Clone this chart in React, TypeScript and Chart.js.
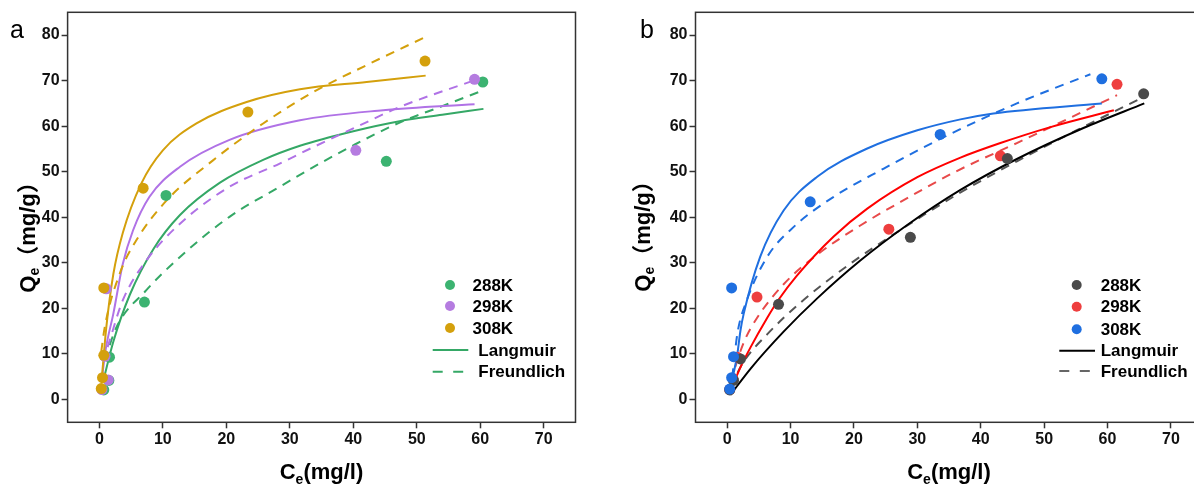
import React, { useEffect, useRef } from 'react';
import { Chart, registerables } from 'chart.js';

Chart.register(...registerables);

const FONT = "'Liberation Sans', Arial, sans-serif";
const CJK = "'Noto Sans CJK SC', 'Noto Sans CJK JP', sans-serif";

const X_TICKS = [0, 10, 20, 30, 40, 50, 60, 70];
const Y_TICKS = [0, 10, 20, 30, 40, 50, 60, 70, 80];

// ---------- Panel a : measured points ----------
const A288_X = [0.7, 1.5, 1.6, 7.1, 10.5, 45.2, 60.4];
const A288_Y = [2.1, 4.2, 9.3, 21.4, 44.8, 52.3, 69.7];
const A298_X = [0.4, 1.4, 0.9, 1.1, 40.4, 59.1];
const A298_Y = [2.2, 4.3, 9.5, 24.3, 54.7, 70.3];
const A308_X = [0.3, 0.5, 0.7, 0.7, 6.9, 23.4, 51.3];
const A308_Y = [2.4, 4.8, 9.7, 24.5, 46.4, 63.1, 74.3];

// ---------- Panel a : fitted curves ----------
const A288L_X = [0.6, 2.2, 4.8, 8.5, 12.7, 19, 25.8, 31.6, 40, 47.3, 54, 60.5];
const A288L_Y = [4.0, 12.7, 23.0, 33.0, 40.5, 47.6, 52.6, 55.7, 58.9, 61.1, 62.5, 63.8];
const A288F_X = [0.85, 2.7, 7.4, 12.7, 20.5, 28.4, 34.7, 40, 47.3, 54, 60.5];
const A288F_Y = [8.6, 15.9, 24, 31.3, 40.1, 46.7, 51.8, 55.8, 60.8, 64.4, 67.9];
const A298L_X = [0.4, 1.0, 2.2, 3.7, 5.3, 7.9, 12.7, 20.5, 31.6, 44.7, 59.1];
const A298L_Y = [4.5, 11, 18.8, 29.8, 37.1, 44.5, 51.1, 57, 61.3, 63.5, 64.8];
const A298F_X = [1.3, 3.7, 7.4, 12.7, 20.5, 28.4, 33.7, 40, 47.3, 59.1];
const A298F_Y = [11.5, 21.8, 30.5, 38.6, 46.7, 51.8, 55.4, 59.5, 64.2, 70.1];
const A308L_X = [0.4, 1.1, 2.2, 3.7, 6.6, 10, 15.3, 23.2, 31.6, 42.1, 51.4];
const A308L_Y = [4.9, 15.9, 27.5, 36.6, 47.4, 54.7, 60.6, 65.3, 68.1, 69.7, 71.1];
const A308F_X = [0.3, 0.85, 3.2, 5.8, 10.6, 17.9, 25.8, 33.7, 42.1, 51.4];
const A308F_Y = [10.5, 15.9, 27.6, 34.9, 43.7, 52.5, 60.6, 67.5, 73.4, 79.6];

// ---------- Panel b : measured points ----------
const B288_X = [0.4, 1.0, 2.1, 8.1, 28.9, 44.2, 65.7];
const B288_Y = [2.1, 4.2, 8.9, 20.9, 35.6, 52.9, 67.1];
const B298_X = [0.4, 0.9, 1.6, 4.7, 25.5, 43.1, 61.5];
const B298_Y = [2.2, 4.6, 9.3, 22.5, 37.4, 53.5, 69.2];
const B308_X = [0.4, 0.7, 1.0, 0.7, 13.1, 33.6, 59.1];
const B308_Y = [2.3, 4.8, 9.4, 24.5, 43.4, 58.2, 70.4];

// ---------- Panel b : fitted curves ----------
const B288L_X = [0.5, 3.7, 8.9, 14.2, 21, 28.4, 36.8, 45.7, 56.2, 65.8];
const B288L_Y = [1.0, 6.8, 14.9, 22.2, 30.5, 38.3, 46.0, 52.8, 59.6, 65];
const B288F_X = [0.5, 2.6, 6.3, 11.5, 19.4, 27.3, 36.5, 45.7, 55, 65.8];
const B288F_Y = [2.7, 8.3, 14.3, 21.2, 29.8, 37.2, 45.2, 52.3, 59, 66.5];
const B298L_X = [0.5, 2, 3.7, 6.3, 8.1, 11, 16.8, 22.1, 30, 36.8, 43.1, 51, 61];
const B298L_Y = [1.8, 6.8, 11.5, 17.9, 21.9, 27.2, 35.8, 41.9, 48.8, 53.1, 56.3, 59.8, 63.5];
const B298F_X = [0.5, 2.6, 4.7, 8.9, 14.2, 21, 28.4, 36, 45.7, 53.6, 61.5];
const B298F_Y = [3.8, 12.5, 17.9, 25.3, 31.8, 38.2, 44.2, 50.0, 56.3, 61.5, 66.8];
const B308L_X = [0.5, 1.6, 2.1, 2.6, 5.2, 8.9, 14.2, 22.1, 30, 36.8, 42, 59.1];
const B308L_Y = [2.5, 10, 15.2, 18.8, 31.3, 41.5, 48.9, 55.1, 59.1, 61.5, 62.8, 65];
const B308F_X = [0.8, 1.6, 3.1, 6.3, 10.5, 16.8, 24.7, 33.6, 45.7, 57.3];
const B308F_Y = [4.9, 14.4, 21.8, 31.3, 37.9, 44.5, 50.7, 57.2, 65, 71.4];

const pts = (xs: number[], ys: number[]) => xs.map((x, i) => ({ x, y: ys[i] }));

const pointSet = (xs: number[], ys: number[], color: string) => ({
  data: pts(xs, ys),
  backgroundColor: color,
  borderWidth: 0,
  pointRadius: 5.5,
  pointHoverRadius: 5.5,
  showLine: false,
});

const curveSet = (xs: number[], ys: number[], color: string, dashed: boolean) => ({
  data: pts(xs, ys),
  borderColor: color,
  borderWidth: 2,
  pointRadius: 0,
  pointHoverRadius: 0,
  showLine: true,
  fill: false,
  cubicInterpolationMode: 'monotone',
  borderDash: dashed ? [9, 7] : [],
});

type Seg = { text: string; font: string; dy: number };

function drawSegs(ctx: CanvasRenderingContext2D, segs: Seg[], cx: number, baseY: number) {
  let total = 0;
  const widths = segs.map((s) => {
    ctx.font = s.font;
    const w = ctx.measureText(s.text).width;
    total += w;
    return w;
  });
  let x = cx - total / 2;
  ctx.textAlign = 'left';
  ctx.textBaseline = 'alphabetic';
  segs.forEach((s, i) => {
    ctx.font = s.font;
    ctx.fillText(s.text, x, baseY + s.dy);
    x += widths[i];
  });
}

const BIG = `bold 22px ${FONT}`;
const SMALL = `bold 14px ${FONT}`;
const BIG_CJK = `bold 22px ${CJK}`;

const X_TITLE: Seg[] = [
  { text: 'C', font: BIG, dy: 0 },
  { text: 'e', font: SMALL, dy: 5 },
  { text: '(mg/l)', font: BIG, dy: 0 },
];
const Y_TITLE: Seg[] = [
  { text: 'Q', font: BIG, dy: 0 },
  { text: 'e', font: SMALL, dy: 4 },
  { text: '（', font: BIG_CJK, dy: 0 },
  { text: 'mg/g', font: BIG, dy: 0 },
  { text: '）', font: BIG_CJK, dy: 0 },
];

function decorate(chart: any, cfg: any) {
  const ctx: CanvasRenderingContext2D = chart.ctx;
  const ca = chart.chartArea;
  ctx.save();
  ctx.strokeStyle = '#333';
  ctx.lineWidth = 1.5;
  ctx.strokeRect(ca.left, ca.top, ca.right - ca.left, ca.bottom - ca.top);

  ctx.fillStyle = '#000';
  ctx.font = `25px ${FONT}`;
  ctx.textAlign = 'left';
  ctx.textBaseline = 'alphabetic';
  ctx.fillText(cfg.letter, cfg.letterX, 38);

  drawSegs(ctx, X_TITLE, cfg.xTitleX, 479);

  ctx.save();
  ctx.translate(cfg.yTitleX, cfg.yTitleY);
  ctx.rotate(-Math.PI / 2);
  drawSegs(ctx, Y_TITLE, 0, 0);
  ctx.restore();

  ctx.font = `bold 17px ${FONT}`;
  ctx.textBaseline = 'middle';
  ctx.textAlign = 'left';
  cfg.markers.forEach((m: any) => {
    ctx.fillStyle = m.color;
    ctx.beginPath();
    ctx.arc(cfg.markerX, m.y, 5, 0, Math.PI * 2);
    ctx.fill();
    ctx.fillStyle = '#000';
    ctx.fillText(m.label, cfg.textX, m.y + 1);
  });
  ctx.lineWidth = 2;
  ctx.strokeStyle = cfg.langColor;
  ctx.setLineDash([]);
  ctx.beginPath();
  ctx.moveTo(cfg.lineX0, cfg.langY);
  ctx.lineTo(cfg.lineX1, cfg.langY);
  ctx.stroke();
  ctx.fillStyle = '#000';
  ctx.fillText('Langmuir', cfg.lineTextX, cfg.langY + 1);
  ctx.strokeStyle = cfg.freuColor;
  ctx.setLineDash([10, 10.5]);
  ctx.beginPath();
  ctx.moveTo(cfg.lineX0, cfg.freuY);
  ctx.lineTo(cfg.lineX1 - 5, cfg.freuY);
  ctx.stroke();
  ctx.setLineDash([]);
  ctx.fillText('Freundlich', cfg.lineTextX, cfg.freuY + 1);
  ctx.restore();
}

function makeOptions(cfg: any) {
  const tickFont = { family: FONT, size: 16, weight: 'bold' as const };
  const grid = {
    display: true,
    drawOnChartArea: false,
    drawTicks: true,
    tickLength: 6,
    tickColor: '#333',
    tickWidth: 1.5,
  };
  return {
    responsive: false,
    animation: false as const,
    events: [],
    layout: { padding: { left: 0, top: 12.3, right: cfg.padRight, bottom: 0 } },
    plugins: { legend: { display: false }, tooltip: { enabled: false } },
    scales: {
      x: {
        type: 'linear' as const,
        min: -5,
        max: 75,
        afterBuildTicks: (s: any) => {
          s.ticks = X_TICKS.map((v) => ({ value: v }));
        },
        afterFit: (s: any) => {
          s.height = 61.7;
        },
        grid,
        border: { display: false },
        ticks: { font: tickFont, color: '#111', padding: 1.5, maxRotation: 0, autoSkip: false },
      },
      y: {
        type: 'linear' as const,
        min: -5,
        max: 85,
        afterBuildTicks: (s: any) => {
          s.ticks = Y_TICKS.map((v) => ({ value: v }));
        },
        afterFit: (s: any) => {
          s.width = cfg.yAxisWidth;
        },
        grid,
        border: { display: false },
        ticks: { font: tickFont, color: '#111', padding: 2, autoSkip: false },
      },
    },
  };
}

const GREEN = '#3cb371';
const GREEN_L = '#35a866';
const PURPLE = '#b57ce0';
const PURPLE_L = '#b072e6';
const GOLD = '#d4a00c';
const DGRAY = '#4a4a4a';
const RED = '#ee3e3e';
const BLUE = '#1f6fe0';

const PANEL_A: any = {
  width: 597,
  padRight: 21.5,
  yAxisWidth: 67.6,
  letter: 'a',
  letterX: 10,
  yTitleX: 35,
  yTitleY: 232,
  xTitleX: 321.5,
  markers: [
    { color: GREEN, label: '288K', y: 285 },
    { color: PURPLE, label: '298K', y: 306 },
    { color: GOLD, label: '308K', y: 328 },
  ],
  markerX: 450,
  textX: 472.5,
  lineX0: 432.7,
  lineX1: 468.3,
  lineTextX: 478.3,
  langColor: GREEN_L,
  freuColor: GREEN_L,
  langY: 350,
  freuY: 371.7,
  datasets: [
    pointSet(A308_X, A308_Y, GOLD),
    pointSet(A298_X, A298_Y, PURPLE),
    pointSet(A288_X, A288_Y, GREEN),
    curveSet(A308L_X, A308L_Y, GOLD, false),
    curveSet(A308F_X, A308F_Y, GOLD, true),
    curveSet(A298L_X, A298L_Y, PURPLE_L, false),
    curveSet(A298F_X, A298F_Y, PURPLE_L, true),
    curveSet(A288L_X, A288L_Y, GREEN_L, false),
    curveSet(A288F_X, A288F_Y, GREEN_L, true),
  ],
};

const PANEL_B: any = {
  width: 620,
  padRight: 14.4,
  yAxisWidth: 98.5,
  letter: 'b',
  letterX: 43,
  yTitleX: 53,
  yTitleY: 231,
  xTitleX: 352,
  markers: [
    { color: DGRAY, label: '288K', y: 285 },
    { color: RED, label: '298K', y: 306.7 },
    { color: BLUE, label: '308K', y: 329.3 },
  ],
  markerX: 479.7,
  textX: 503.7,
  lineX0: 462.3,
  lineX1: 498,
  lineTextX: 503.7,
  langColor: '#000',
  freuColor: '#666',
  langY: 350.7,
  freuY: 371,
  datasets: [
    pointSet(B308_X, B308_Y, BLUE),
    pointSet(B288_X, B288_Y, DGRAY),
    pointSet(B298_X, B298_Y, RED),
    curveSet(B308L_X, B308L_Y, BLUE, false),
    curveSet(B308F_X, B308F_Y, BLUE, true),
    curveSet(B298L_X, B298L_Y, '#ff0000', false),
    curveSet(B298F_X, B298F_Y, '#e84a4a', true),
    curveSet(B288L_X, B288L_Y, '#000', false),
    curveSet(B288F_X, B288F_Y, '#555', true),
  ],
};

function Panel({ cfg, left }: { cfg: any; left: number }) {
  const ref = useRef<HTMLCanvasElement>(null);
  useEffect(() => {
    if (!ref.current) return;
    const chart = new Chart(ref.current, {
      type: 'scatter',
      data: { datasets: cfg.datasets },
      options: makeOptions(cfg) as any,
      plugins: [
        {
          id: 'decor',
          afterDraw: (c: any) => decorate(c, cfg),
        },
      ],
    });
    return () => chart.destroy();
  }, [cfg]);
  return (
    <canvas
      ref={ref}
      width={cfg.width}
      height={484}
      style={{ position: 'absolute', left, top: 0, width: cfg.width, height: 484, display: 'block' }}
    />
  );
}

export default function App() {
  return (
    <div
      style={{
        position: 'absolute',
        left: 0,
        top: 0,
        width: 1194,
        height: 484,
        overflow: 'hidden',
        background: '#fff',
      }}
    >
      <Panel cfg={PANEL_A} left={0} />
      <Panel cfg={PANEL_B} left={597} />
    </div>
  );
}
